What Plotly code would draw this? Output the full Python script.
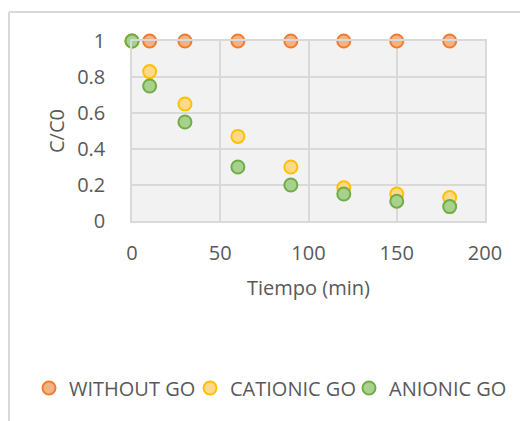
import plotly.graph_objects as go

# Sampling times (min)
tiempo = [0, 10, 30, 60, 90, 120, 150, 180]

# Normalised concentration C/C0 for each condition
without_go = [1, 1, 1, 1, 1, 1, 1, 1]
cationic_go = [1, 0.83, 0.65, 0.47, 0.30, 0.185, 0.15, 0.13]
anionic_go = [1, 0.75, 0.55, 0.30, 0.20, 0.15, 0.11, 0.08]

series = [
    ("WITHOUT GO", without_go, "#f4b183", "#ed7d31"),
    ("CATIONIC GO", cationic_go, "#ffd98a", "#ffc000"),
    ("ANIONIC GO", anionic_go, "#a9d18e", "#70ad47"),
]

FONT = "'Open Sans', sans-serif"
TXT = "#595959"
GRID = "#d9d9d9"
FS = 20

L, R, T, B = 132, 35, 41, 200
W, H = 520, 421
pw = W - L - R
ph = H - T - B

# One legend per series so each entry sits at its own horizontal slot
legend_ids = ["legend", "legend2", "legend3"]
legend_left_px = [29, 190, 349]
legend_y = -(388 - (H - B)) / ph

fig = go.Figure()
for (name, vals, fill, edge), lid in zip(series, legend_ids):
    fig.add_trace(go.Scatter(
        x=tiempo, y=vals, mode="markers", name=name, legend=lid,
        marker=dict(size=13, color=fill, line=dict(color=edge, width=2)),
        cliponaxis=False,
    ))

legend_layout = {}
for lid, px in zip(legend_ids, legend_left_px):
    legend_layout[lid] = dict(
        orientation="h", x=(px - L) / pw, xanchor="left", y=legend_y,
        yanchor="middle", font=dict(size=FS, color=TXT),
        itemwidth=30, bgcolor="rgba(0,0,0,0)",
    )

fig.update_layout(
    width=W, height=H,
    margin=dict(l=L, r=R, t=T, b=B, autoexpand=False),
    paper_bgcolor="white",
    plot_bgcolor="#f2f2f2",
    font=dict(family=FONT, size=FS, color=TXT),
    showlegend=True,
    **legend_layout,
    xaxis=dict(
        range=[0, 200], dtick=50, showgrid=True, gridcolor=GRID, gridwidth=1.5,
        zeroline=False, showline=True, linecolor=GRID, linewidth=1.5, mirror=True,
        ticks="", ticklabelstandoff=13, automargin=False,
        title=dict(text="Tiempo (min)", standoff=16, font=dict(size=FS, color=TXT)),
    ),
    yaxis=dict(
        range=[0, 1], dtick=0.2, showgrid=True, gridcolor=GRID, gridwidth=1.5,
        zeroline=False, showline=True, linecolor=GRID, linewidth=1.5, mirror=True,
        ticks="", ticklabelstandoff=21, tickformat="~g", automargin=False,
        title=dict(text="C/C0", standoff=7, font=dict(size=FS, color=TXT)),
    ),
)

# Chart frame: left and top edges of the outer border
x0 = (9 - L) / pw
y0 = (H - B - 12) / ph
fig.add_shape(type="line", xref="paper", yref="paper", x0=x0, x1=x0, y0=y0, y1=-3,
              line=dict(color=GRID, width=2), layer="below")
fig.add_shape(type="line", xref="paper", yref="paper", x0=x0, x1=3, y0=y0, y1=y0,
              line=dict(color=GRID, width=2), layer="below")

fig.write_html("out.html")
